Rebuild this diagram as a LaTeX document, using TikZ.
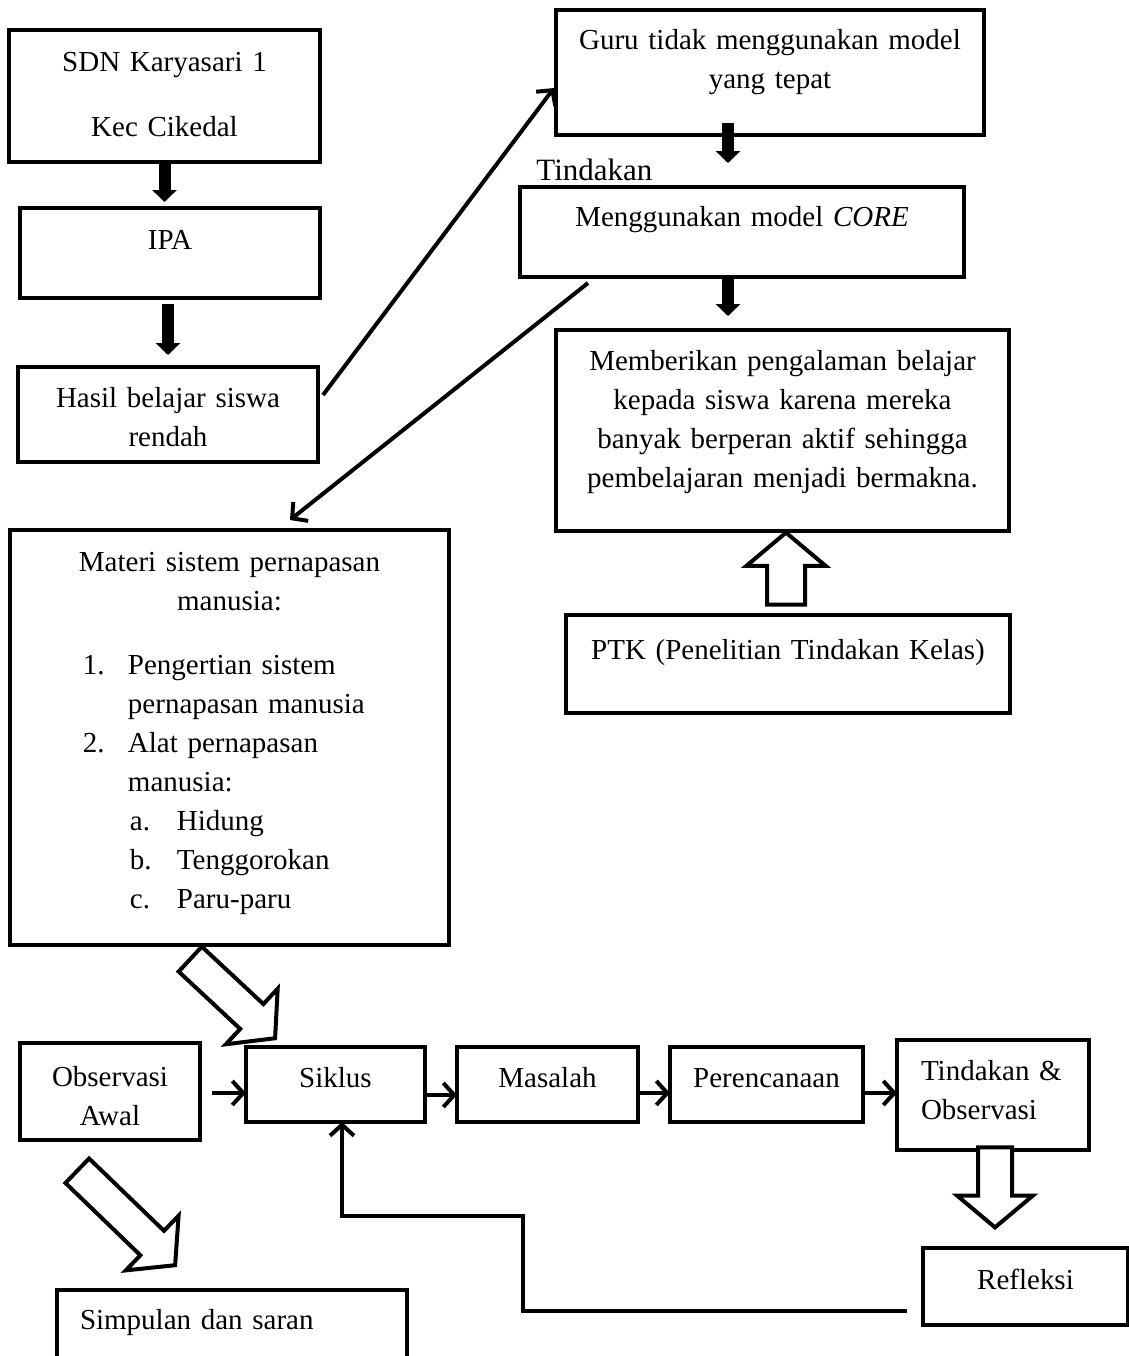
\documentclass[tikz,border=0pt]{standalone}
\usepackage{fontspec}
\setmainfont{Liberation Serif}
\usetikzlibrary{positioning,arrows.meta,shapes.arrows}

\begin{document}
\begin{tikzpicture}[x=0.5pt,y=-0.5pt,
    kotak/.style={draw,line width=1.8pt,inner sep=0pt,outer sep=0pt,align=center,font=\fontsize{14.5}{19.5}\selectfont},
    tebal/.style={line width=6pt,-{Triangle[width=12pt,length=6pt]}},
    garis/.style={line width=2pt,-{Straight Barb[length=5.5pt,width=12pt]}},
    kosong/.style={single arrow,draw,fill=white,line width=2pt,inner sep=0pt,minimum width=0pt,
      single arrow head extend=10.5pt,single arrow tip angle=100,anchor=tip}]
%
   \useasboundingbox (0,0) rectangle (1129,1356);
   \node[kotak,anchor=north,text width=155.5pt,text height=20.5pt,text depth=45.5pt] (N1) at (164.5,30) {SDN Karyasari 1\\[13pt]Kec Cikedal};
   \node[kotak,anchor=north,text width=150pt,text height=20.5pt,text depth=24.5pt] (N2) at (170,208) {IPA};
   \node[kotak,anchor=north,text width=150pt,text height=20pt,text depth=27.5pt] (N3) at (168,367) {Hasil belajar siswa\\rendah};
   \node[kotak,anchor=north,text width=214pt,text height=19.5pt,text depth=43pt] (N4) at (770,10) {Guru tidak menggunakan model\\yang tepat};
   \node[anchor=west,inner sep=0pt,font=\fontsize{15.5}{18}\selectfont] (N5) at (536,170) {Tindakan};
   \node[kotak,anchor=north,text width=222pt,text height=19.5pt,text depth=25.5pt] (N6) at (742,187) {Menggunakan model \textit{CORE}};
   \node[kotak,anchor=north,text width=226.5pt,text height=20pt,text depth=80.5pt] (N7) at (782.5,330) {Memberikan pengalaman belajar\\kepada siswa karena mereka\\banyak berperan aktif sehingga\\pembelajaran menjadi bermakna.};
   \node[kotak,anchor=north,text width=222pt,text height=22pt,text depth=27pt] (N8) at (788,615) {PTK (Penelitian Tindakan Kelas)};
   \node[kotak,anchor=north,align=left,text width=219.5pt,text height=20.5pt,text depth=187pt] (N9) at (229.5,530) {{\centering Materi sistem pernapasan\\manusia:\par}\vspace{12.5pt}
      \hspace*{36.5pt}\makebox[22.5pt][l]{1.}Pengertian sistem\\
      \hspace*{59pt}pernapasan manusia\\
      \hspace*{36.5pt}\makebox[22.5pt][l]{2.}Alat pernapasan\\
      \hspace*{59pt}manusia:\\
      \hspace*{60pt}\makebox[23.5pt][l]{a.}Hidung\\
      \hspace*{60pt}\makebox[23.5pt][l]{b.}Tenggorokan\\
      \hspace*{60pt}\makebox[23.5pt][l]{c.}Paru-paru};
   \node[kotak,anchor=north,text width=90pt,text height=21.5pt,text depth=27pt] (N10) at (110,1043) {Observasi\\Awal};
   \node[kotak,anchor=north,text width=89.5pt,text height=20pt,text depth=17.5pt] (N11) at (335.5,1047) {Siklus};
   \node[kotak,text width=90.5pt,text height=20pt,text depth=17.5pt] (N12) [right=16pt of N11] {Masalah};
   \node[kotak,text width=96.5pt,text height=20pt,text depth=17.5pt] (N13) [right=16pt of N12] {Perencanaan};
   \node[kotak,anchor=north west,align=left,text width=72pt,inner xsep=12pt,text height=20pt,text depth=35pt] (N14) at (897,1040) {Tindakan \&\\Observasi};
   \node[kotak,anchor=north,text width=102.5pt,text height=20.5pt,text depth=18pt] (N15) at (1025.5,1248) {Refleksi};
   \node[kotak,anchor=north west,align=left,text width=152pt,inner xsep=11.5pt,text height=19.5pt,text depth=16.5pt] (N16) at (57,1290) {Simpulan dan saran};
   \node[kosong,inner ysep=7.5pt,minimum height=58pt,rotate=-43] (H1) at (277,1040) {};
   \node[kosong,inner ysep=7.5pt,minimum height=68pt,rotate=-44] (H2) at (177,1267) {};
   \node[kosong,inner ysep=8.5pt,single arrow head extend=10.25pt,minimum height=36pt,rotate=90] (H3) at (786,530) {};
   \node[kosong,inner ysep=7.5pt,minimum height=40pt,rotate=-90] (H4) at (995,1230) {};
   \coordinate (K1) at (907,1311);
   \coordinate (K2) at (523,1216);
   \path (N1.south) edge[tebal,shorten >=3pt] (N1.south |- N2.north);
   \path (N2.south -| N3.north) edge[tebal,shorten <=3pt,shorten >=6pt] (N3.north);
   \path ([xshift=-21pt,yshift=6pt]N4.south) edge[tebal] ([xshift=-7pt,yshift=12pt]N6.north);
   \path ([xshift=-7pt,yshift=0.5pt]N6.south) edge[tebal] ([xshift=-27.25pt,yshift=7pt]N7.north);
   \path ([xshift=2.5pt,yshift=9.75pt]N3.east) edge[garis] ([xshift=-1pt,yshift=-7.75pt]N4.west);
   \path ([xshift=34pt,yshift=-3pt]N6.south west) edge[garis] ([xshift=30.25pt,yshift=5pt]N9.north);
   \path ([xshift=6pt,yshift=-0.75pt]N10.east) edge[garis] ([yshift=-4.25pt]N11.west);
   \path ([yshift=-5.25pt]N11.east) edge[garis] ([yshift=-5.25pt]N12.west);
   \path ([yshift=-4.25pt]N12.east) edge[garis] ([yshift=-4.25pt]N13.west);
   \path ([yshift=-4.25pt]N13.east) edge[garis] ([yshift=1pt]N14.west);
   \draw[garis] (K1) -| (K2) -| ([xshift=3.25pt]N11.south);
\end{tikzpicture}
\end{document}
